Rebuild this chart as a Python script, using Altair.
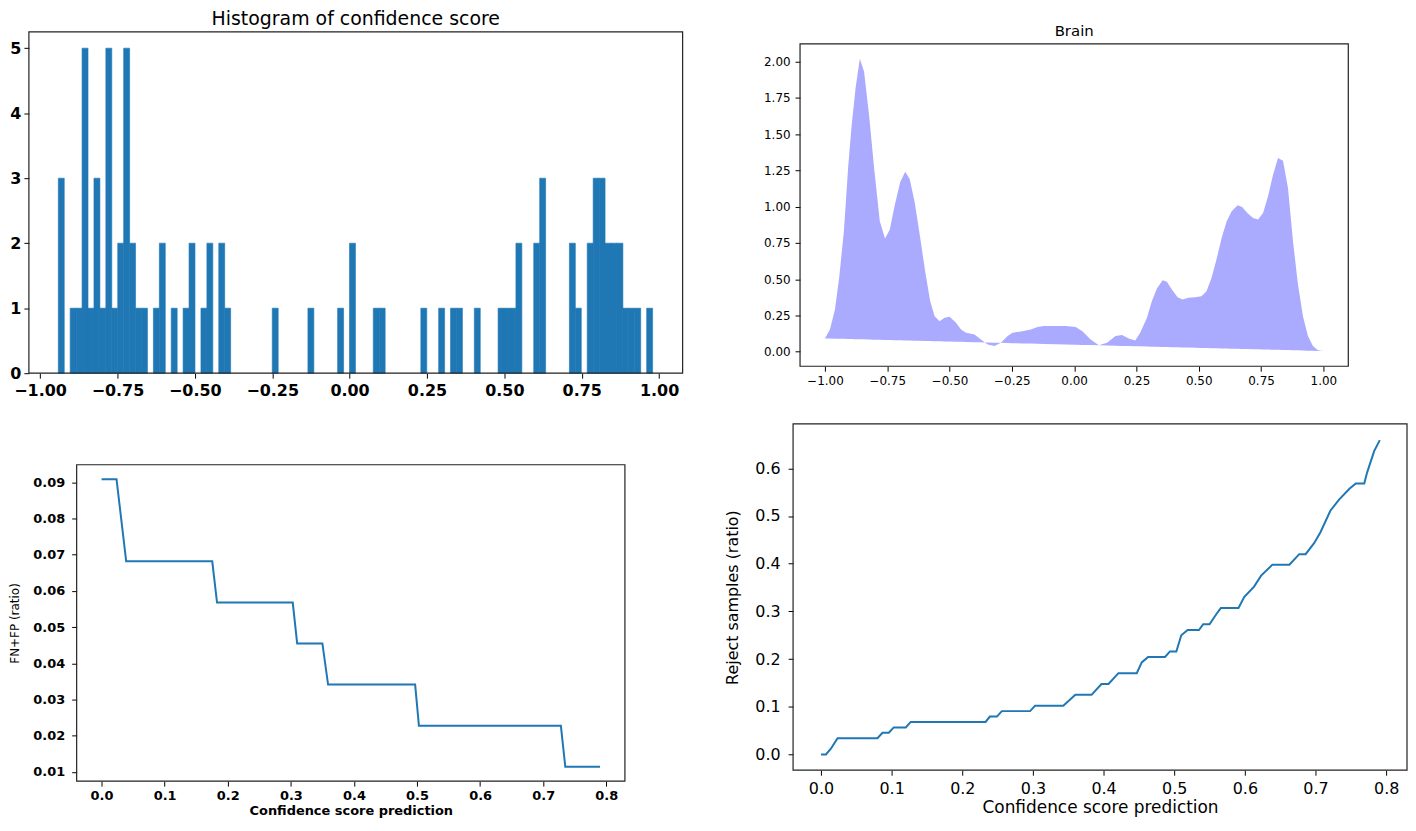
import altair as alt
import numpy as np
import pandas as pd

# ---------------- data ----------------
# Panel 1: histogram of confidence score (100 bins between min and max)
hist_min = -0.941
hist_max = 0.979
hist_counts = [3, 0, 1, 1, 5, 1, 3, 1, 5, 1,
               2, 5, 2, 1, 1, 0, 1, 2, 0, 1,
               0, 1, 2, 0, 1, 2, 0, 2, 1, 0,
               0, 0, 0, 0, 0, 0, 1, 0, 0, 0,
               0, 0, 1, 0, 0, 0, 0, 1, 0, 2,
               0, 0, 0, 1, 1, 0, 0, 0, 0, 0,
               0, 1, 0, 0, 1, 0, 1, 1, 0, 0,
               1, 0, 0, 0, 1, 1, 1, 2, 0, 0,
               2, 3, 0, 0, 0, 0, 2, 1, 0, 2,
               3, 3, 2, 2, 2, 1, 1, 1, 0, 1]
hist_title = "Histogram of confidence score"
hist_x_ticks = [-1.0, -0.75, -0.5, -0.25, 0.0, 0.25, 0.5, 0.75, 1.0]
hist_y_ticks = [0, 1, 2, 3, 4, 5]

# Panel 2: density ("Brain")
kde_x = [-1.0, -0.98, -0.96, -0.943, -0.924, -0.907, -0.893, -0.877, -0.86, -0.843,
         -0.823, -0.803, -0.78, -0.759, -0.74, -0.72, -0.698, -0.678, -0.66, -0.64,
         -0.62, -0.598, -0.578, -0.56, -0.54, -0.52, -0.50, -0.474, -0.454, -0.434,
         -0.40, -0.374, -0.347, -0.32, -0.294, -0.267, -0.247, -0.208, -0.174, -0.147,
         -0.121, -0.074, -0.034, 0.006, 0.033, 0.066, 0.099, 0.132, 0.166, 0.192,
         0.219, 0.245, 0.265, 0.292, 0.312, 0.332, 0.355, 0.372, 0.392, 0.415,
         0.435, 0.458, 0.485, 0.511, 0.531, 0.551, 0.571, 0.592, 0.612, 0.632,
         0.656, 0.674, 0.695, 0.718, 0.738, 0.758, 0.778, 0.798, 0.818, 0.838,
         0.858, 0.878, 0.898, 0.918, 0.938, 0.958, 0.978, 0.998]
kde_y = [0.092, 0.154, 0.29, 0.51, 0.83, 1.27, 1.56, 1.82, 2.02, 1.93,
         1.63, 1.27, 0.90, 0.78, 0.84, 1.01, 1.17, 1.24, 1.19, 1.03,
         0.81, 0.555, 0.35, 0.245, 0.21, 0.234, 0.241, 0.2, 0.154, 0.131,
         0.119, 0.085, 0.05, 0.039, 0.062, 0.108, 0.131, 0.142, 0.154, 0.17,
         0.177, 0.177, 0.177, 0.17, 0.142, 0.085, 0.044, 0.062, 0.108, 0.115,
         0.092, 0.078, 0.131, 0.234, 0.349, 0.436, 0.493, 0.482, 0.429, 0.376,
         0.36, 0.372, 0.376, 0.383, 0.417, 0.509, 0.636, 0.785, 0.899, 0.968,
         1.009, 0.998, 0.957, 0.922, 0.911, 0.957, 1.071, 1.22, 1.335, 1.317,
         1.129, 0.762, 0.463, 0.245, 0.108, 0.039, 0.011, 0.005]
kde_title = "Brain"
kde_x_ticks = [-1.0, -0.75, -0.5, -0.25, 0.0, 0.25, 0.5, 0.75, 1.0]
kde_y_ticks = [0.0, 0.25, 0.5, 0.75, 1.0, 1.25, 1.5, 1.75, 2.0]

# Panel 3: FN+FP ratio vs confidence threshold
fnfp_x = [0.0, 0.0237, 0.039, 0.1754, 0.183, 0.303, 0.310, 0.350, 0.359, 0.497,
          0.503, 0.728, 0.735, 0.790]
fnfp_y = [0.0909, 0.0909, 0.0682, 0.0682, 0.0568, 0.0568, 0.0455, 0.0455, 0.0341, 0.0341,
          0.0227, 0.0227, 0.0114, 0.0114]
fnfp_x_ticks = [0.0, 0.1, 0.2, 0.3, 0.4, 0.5, 0.6, 0.7, 0.8]
fnfp_y_ticks = [0.01, 0.02, 0.03, 0.04, 0.05, 0.06, 0.07, 0.08, 0.09]
fnfp_xtitle = "Confidence score prediction"
fnfp_ytitle = "FN+FP (ratio)"

# Panel 4: reject ratio vs confidence threshold
rej_x = [0.0, 0.007, 0.014, 0.0235, 0.080, 0.087, 0.096, 0.103, 0.120, 0.127,
         0.233, 0.239, 0.249, 0.256, 0.296, 0.303, 0.343, 0.360, 0.383, 0.397,
         0.407, 0.421, 0.447, 0.454, 0.463, 0.487, 0.494, 0.503, 0.510, 0.519,
         0.535, 0.541, 0.550, 0.560, 0.566, 0.591, 0.599, 0.613, 0.623, 0.639,
         0.663, 0.677, 0.686, 0.698, 0.707, 0.721, 0.733, 0.748, 0.757, 0.769,
         0.773, 0.783, 0.791]
rej_y = [0.0, 0.0, 0.012, 0.0341, 0.0341, 0.0455, 0.0455, 0.0568, 0.0568, 0.0682,
         0.0682, 0.0795, 0.0795, 0.0909, 0.0909, 0.1023, 0.1023, 0.125, 0.125, 0.1477,
         0.1477, 0.1705, 0.1705, 0.193, 0.2045, 0.2045, 0.216, 0.216, 0.250, 0.261,
         0.261, 0.273, 0.273, 0.295, 0.307, 0.307, 0.330, 0.352, 0.375, 0.398,
         0.398, 0.420, 0.420, 0.443, 0.466, 0.511, 0.534, 0.557, 0.568, 0.568,
         0.591, 0.636, 0.659]
rej_x_ticks = [0.0, 0.1, 0.2, 0.3, 0.4, 0.5, 0.6, 0.7, 0.8]
rej_y_ticks = [0.0, 0.1, 0.2, 0.3, 0.4, 0.5, 0.6]
rej_xtitle = "Confidence score prediction"
rej_ytitle = "Reject samples (ratio)"

# ---------------- layout / style ----------------
FONT = "DejaVu Sans"
MINUS = "replace(datum.label, '-', '\u2212')"
W, H = 1406, 780
BLUE = "#1f77b4"
FRAME = "#222222"

# plot boxes in chart pixels: (left, right, top, bottom)
BOX1 = (20, 677, 22, 365)
BOX2 = (795, 1346, 34, 358)
BOX3 = (68, 619, 457, 775)
BOX4 = (788, 1405, 416, 764)

DOM1 = ([-1.036, 1.076], [0.0, 5.25])
DOM2 = ([-1.1, 1.1], [-0.1, 2.122])
DOM3 = ([-0.0395, 0.8295], [0.0074, 0.0949])
DOM4 = ([-0.0395, 0.8295], [-0.033, 0.693])

ONE = pd.DataFrame({"k": [0]})


def xscale(dom, box):
    return alt.Scale(domain=dom[0], range=[box[0], box[1]], nice=False, zero=False)


def yscale(dom, box):
    return alt.Scale(domain=dom[1], range=[box[3], box[2]], nice=False, zero=False)


def xaxis(box, values, fmt, size, weight, pad, title=None, tsize=14, tweight="normal", tpad=2):
    kw = dict(orient="bottom", offset=box[3] - H, values=values, format=fmt,
              labelExpr=MINUS, labelFontSize=size, labelFontWeight=weight,
              labelPadding=pad, tickSize=5, tickColor="#000", labelColor="#000",
              labelFont=FONT, grid=False, domain=False, labelFlush=False,
              labelOverlap=False, ticks=True, labels=True)
    if title:
        kw.update(title=title, titleFontSize=tsize, titleFontWeight=tweight,
                  titlePadding=tpad, titleFont=FONT, titleColor="#000")
    else:
        kw.update(title="")
    return alt.Axis(**kw)


def yaxis(box, values, fmt, size, weight, pad, title=None, tsize=14, tweight="normal", tpad=2):
    kw = dict(orient="left", offset=-box[0], values=values, format=fmt,
              labelExpr=MINUS, labelFontSize=size, labelFontWeight=weight,
              labelPadding=pad, tickSize=5, tickColor="#000", labelColor="#000",
              labelFont=FONT, grid=False, domain=False, labelFlush=False,
              labelOverlap=False, ticks=True, labels=True)
    if title:
        kw.update(title=title, titleFontSize=tsize, titleFontWeight=tweight,
                  titlePadding=tpad, titleFont=FONT, titleColor="#000")
    else:
        kw.update(title="")
    return alt.Axis(**kw)


def frame(dom, box):
    xd, yd = dom
    return alt.Chart(ONE).mark_rect(fill="transparent", stroke=FRAME, strokeWidth=1.2).encode(
        x=alt.XDatum(xd[0], scale=xscale(dom, box), axis=None), x2=alt.X2Datum(xd[1]),
        y=alt.YDatum(yd[0], scale=yscale(dom, box), axis=None), y2=alt.Y2Datum(yd[1]))


def ptitle(dom, box, text, size, dy):
    xd, yd = dom
    return alt.Chart(ONE).mark_text(text=text, font=FONT, fontSize=size, baseline="bottom",
                                    align="center", dy=dy, color="#000").encode(
        x=alt.XDatum((xd[0] + xd[1]) / 2, scale=xscale(dom, box), axis=None),
        y=alt.YDatum(yd[1], scale=yscale(dom, box), axis=None))


# ---- panel 1: histogram ----
edges = np.linspace(hist_min, hist_max, len(hist_counts) + 1)
df1 = pd.DataFrame({"lo": edges[:-1], "hi": edges[1:], "count": hist_counts})
df1 = df1[df1["count"] > 0]
bars = alt.Chart(df1).mark_rect(color=BLUE, stroke=BLUE, strokeWidth=0.6).encode(
    x=alt.X("lo:Q", scale=xscale(DOM1, BOX1),
            axis=xaxis(BOX1, hist_x_ticks, ".2f", 16, "bold", 4)),
    x2="hi:Q",
    y=alt.Y("count:Q", scale=yscale(DOM1, BOX1),
            axis=yaxis(BOX1, hist_y_ticks, "d", 16, "bold", 3)),
    y2=alt.Y2Datum(0),
)

# ---- panel 2: density area ----
x_first, x_last = kde_x[0], kde_x[-1]
y_first, y_last = kde_y[0], kde_y[-1]
df2 = pd.DataFrame({"kx": kde_x, "ky": kde_y})
df2["kb"] = y_first + (y_last - y_first) * (df2["kx"] - x_first) / (x_last - x_first)
area = alt.Chart(df2).mark_area(color="#aaaaff", opacity=1).encode(
    x=alt.X("kx:Q", scale=xscale(DOM2, BOX2),
            axis=xaxis(BOX2, kde_x_ticks, ".2f", 12, "normal", 4)),
    y=alt.Y("ky:Q", scale=yscale(DOM2, BOX2),
            axis=yaxis(BOX2, kde_y_ticks, ".2f", 12, "normal", 5)),
    y2="kb:Q",
)

# ---- panel 3: FN+FP ----
df3 = pd.DataFrame({"cx": fnfp_x, "cy": fnfp_y})
line3 = alt.Chart(df3).mark_line(color=BLUE, strokeWidth=2).encode(
    x=alt.X("cx:Q", scale=xscale(DOM3, BOX3),
            axis=xaxis(BOX3, fnfp_x_ticks, ".1f", 13, "bold", 3, fnfp_xtitle, 13, "bold", 3)),
    y=alt.Y("cy:Q", scale=yscale(DOM3, BOX3),
            axis=yaxis(BOX3, fnfp_y_ticks, ".2f", 13, "bold", 7, fnfp_ytitle, 12, "normal", 11)),
)

# ---- panel 4: reject ratio ----
df4 = pd.DataFrame({"rx": rej_x, "ry": rej_y})
line4 = alt.Chart(df4).mark_line(color=BLUE, strokeWidth=2).encode(
    x=alt.X("rx:Q", scale=xscale(DOM4, BOX4),
            axis=xaxis(BOX4, rej_x_ticks, ".1f", 16, "normal", 5, rej_xtitle, 17, "normal", 3)),
    y=alt.Y("ry:Q", scale=yscale(DOM4, BOX4),
            axis=yaxis(BOX4, rej_y_ticks, ".1f", 16, "normal", 8, rej_ytitle, 16, "normal", 14)),
)

chart = (
    alt.layer(
        bars, frame(DOM1, BOX1), ptitle(DOM1, BOX1, hist_title, 19, -3),
        area, frame(DOM2, BOX2), ptitle(DOM2, BOX2, kde_title, 15, -5),
        line3, frame(DOM3, BOX3),
        line4, frame(DOM4, BOX4),
    )
    .resolve_scale(x="independent", y="independent")
    .resolve_axis(x="independent", y="independent")
    .properties(width=W, height=H, padding=0)
    .configure_view(strokeWidth=0)
)

chart.save("out.html", embed_options={"renderer": "svg", "actions": False})
